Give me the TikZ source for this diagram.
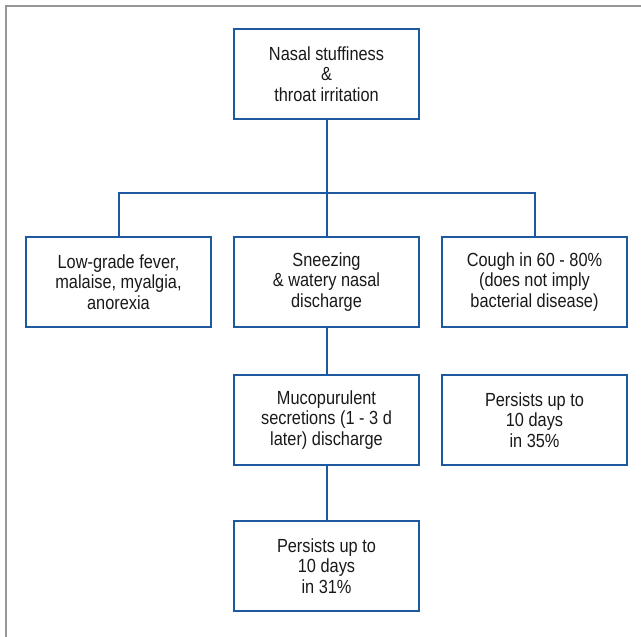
\documentclass[tikz,border=0pt]{standalone}
\usepackage{fontspec}
\setmainfont{Liberation Sans}[FakeStretch=0.86]
\definecolor{chartblue}{RGB}{30,88,160}
\definecolor{framegray}{RGB}{150,150,150}
\tikzset{
    symptom/.style = {draw=chartblue, line width=2.5pt, minimum width=185pt, minimum height=90pt, align=center, text=black!90}
}

\begin{document}
\begin{tikzpicture}
    [
        x=1pt, y=1pt,
        font=\fontsize{19}{20.5}\selectfont,
        edge from parent/.style = {draw=chartblue, line width=2pt},
        level 1/.style = {sibling distance = 208pt, level distance = 208pt,
            edge from parent path = {(\tikzparentnode.south) -- ++(0,-73pt) -| (\tikzchildnode.north)}},
        level 2/.style = {level distance = 138pt,
            edge from parent path = {(\tikzparentnode.south) -- (\tikzchildnode.north)}},
        level 3/.style = {level distance = 146pt}
    ]
    \useasboundingbox (0,0) rectangle (641,-637);
    \draw[framegray, line width=1.5pt] (6,-637) |- (641,-6);

        \node[symptom] (Onset) at (326.5,-74) {Nasal stuffiness\\ \&\\ throat irritation}
        child {
            node[symptom] (Fever) {Low-grade fever,\\ malaise, myalgia,\\ anorexia}
        }
        child {
            node[symptom] (Sneeze) {Sneezing\\ \& watery nasal\\ discharge}
            child {
                node[symptom] (Mucus) {Mucopurulent\\ secretions (1 - 3 d\\ later) discharge}
                child {
                    node[symptom] (NasalLast) {Persists up to\\ 10 days\\ in 31\%}
                }
            }
        }
        child {
            node[symptom] (Cough) {Cough in 60 - 80\%\\ (does not imply\\ bacterial disease)}
            child {
                node[symptom] (CoughLast) {Persists up to\\ 10 days\\ in 35\%}
                edge from parent[draw=none]
            }
        }
        ;
\end{tikzpicture}
\end{document}
